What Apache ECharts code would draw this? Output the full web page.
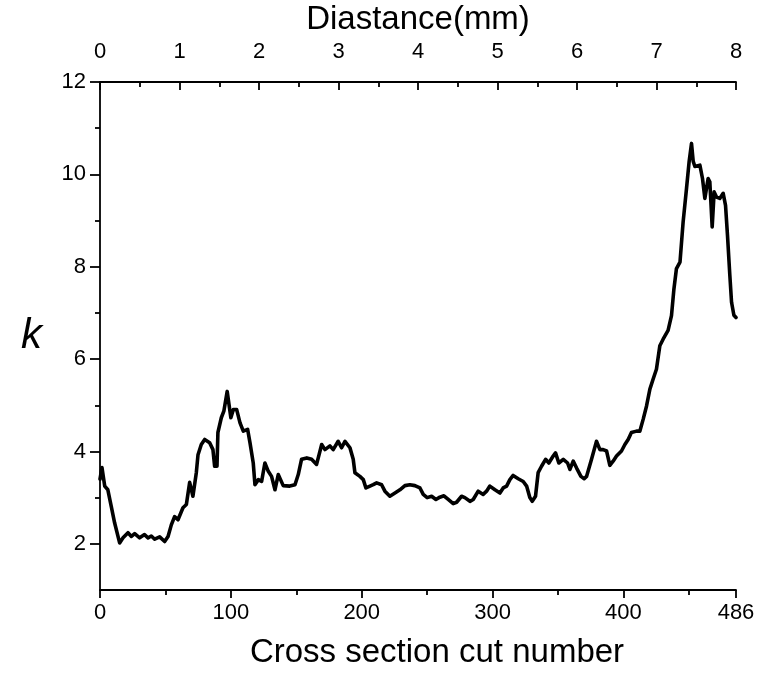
<!DOCTYPE html>
<html>
<head>
<meta charset="utf-8">
<script src="https://cdn.jsdelivr.net/npm/echarts@6/dist/echarts.min.js"></script>
<style>
html,body{margin:0;padding:0;background:#fff;}
#c{width:758px;height:673px;}
</style>
</head>
<body>
<div id="c"></div>
<script>
// Cross section cut number (x) and k (y)
const cutNumbers = [0,1.5,3.6,6,8.6,11.2,15,17.6,21.4,24,26.5,30.3,34,36.7,39.2,41.8,45.6,49.4,52,54.5,57,59.6,63.4,66,68.5,71,73.6,74.9,77.4,80,83.8,86.3,87.6,89.4,90.1,92.7,94.7,97.2,100,101.9,104.4,107,109.5,112.8,114.6,117.1,118.4,121,123.5,126,128.6,131.1,133.7,136.2,140,145,149,151.5,154,158,161.7,165.5,169.4,171.9,175.7,178.2,182,184.6,187.2,191,193.5,194.8,198.6,201.2,203.2,206.3,208.8,211.4,215.2,217.7,221.5,225.4,229.2,233,236.8,240.6,244.5,247,250,253.4,256.7,259.7,262.8,266.1,269.9,272.5,276.3,278.8,282.7,285.2,289,292.8,295.4,297.9,301.8,305.6,308.1,310.7,313.2,315.7,319.6,323.4,326,328.5,330.3,332.8,334.8,337.4,340.5,343,346.3,348.1,350.6,354,357.3,359.1,361.6,364.2,367.5,370,371.8,375.6,379.4,382,384.5,387.1,389.6,392.1,394.7,398.5,401.1,403.6,406.1,410,412.5,415.1,417.6,420.2,422.7,425.2,427.8,430.3,434.1,436.7,438.5,440.5,443.2,445.6,448.2,450.2,452,453.3,454.6,458.4,460.4,462.2,463.5,464.7,466,467.8,469.3,471.1,473.6,476.2,478,479.5,481.3,482.6,484.4,486];
const kValues = [3.4,3.65,3.25,3.17,2.81,2.45,2.02,2.13,2.24,2.16,2.22,2.13,2.2,2.13,2.17,2.1,2.15,2.05,2.16,2.41,2.59,2.52,2.78,2.85,3.33,3.03,3.54,3.93,4.15,4.26,4.19,4.04,3.68,3.68,4.41,4.73,4.88,5.3,4.73,4.91,4.91,4.62,4.44,4.48,4.19,3.75,3.28,3.39,3.35,3.75,3.57,3.46,3.17,3.5,3.26,3.25,3.28,3.5,3.83,3.86,3.83,3.72,4.15,4.04,4.12,4.04,4.22,4.08,4.22,4.08,3.83,3.54,3.46,3.39,3.21,3.25,3.28,3.32,3.28,3.14,3.03,3.1,3.17,3.26,3.28,3.26,3.21,3.07,3.0,3.03,2.96,3.01,3.04,2.96,2.87,2.9,3.03,3.0,2.92,2.96,3.14,3.07,3.14,3.25,3.17,3.1,3.21,3.25,3.39,3.48,3.41,3.35,3.25,3.0,2.92,3.03,3.54,3.68,3.83,3.75,3.9,3.97,3.75,3.83,3.75,3.61,3.79,3.64,3.46,3.41,3.46,3.83,4.22,4.04,4.04,4.01,3.7,3.79,3.9,4.01,4.15,4.26,4.41,4.44,4.44,4.7,4.98,5.35,5.57,5.78,6.29,6.43,6.62,6.94,7.5,7.96,8.1,8.97,9.7,10.28,10.67,10.28,10.17,10.2,9.91,9.48,9.44,9.91,9.84,8.86,9.62,9.51,9.48,9.59,9.33,8.68,7.81,7.23,6.95,6.9];

const bottomMajor = [0,100,200,300,400,486];
const bottomMinor = [50,150,250,350,450];
const leftMajor = [2,4,6,8,10,12];
const leftMinor = [3,5,7,9,11];
const topMin = 0, topMax = 8, topInterval = 1;
const xTitle = 'Cross section cut number';
const topTitle = 'Diastance(mm)';
const yTitle = 'k';

const FONT = "'Liberation Sans', Arial, sans-serif";
const gridPos = {left:100, right:22, top:82, bottom:83, containLabel:false, outerBoundsMode:'none'};
const lineStyle = {color:'#000', width:1.8};

const chart = echarts.init(document.getElementById('c'), null, {renderer:'canvas'});
chart.setOption({
  backgroundColor:'#fff',
  animation:false,
  grid:[Object.assign({}, gridPos), Object.assign({}, gridPos)],
  xAxis:[
    {type:'value', gridIndex:0, position:'bottom', min:0, max:486,
     axisLine:{show:true, onZero:false, lineStyle:lineStyle},
     axisTick:{show:true, customValues:bottomMajor, length:8, lineStyle:lineStyle},
     axisLabel:{show:true, customValues:bottomMajor, fontSize:22, color:'#000', fontFamily:FONT, margin:12},
     splitLine:{show:false},
     name:xTitle, nameLocation:'middle', nameGap:46,
     nameTextStyle:{fontSize:33, color:'#000', fontFamily:FONT, padding:[0,0,0,38]}},
    {type:'value', gridIndex:0, position:'top', min:topMin, max:topMax, interval:topInterval,
     axisLine:{show:true, onZero:false, lineStyle:lineStyle},
     axisTick:{show:true, inside:true, length:8, lineStyle:lineStyle},
     minorTick:{show:true, splitNumber:2, length:5, lineStyle:lineStyle},
     axisLabel:{show:true, fontSize:22, color:'#000', fontFamily:FONT, margin:19},
     splitLine:{show:false},
     name:topTitle, nameLocation:'middle', nameGap:46,
     nameTextStyle:{fontSize:33, color:'#000', fontFamily:FONT}},
    {type:'value', gridIndex:1, position:'bottom', min:0, max:486,
     axisLine:{show:false, onZero:false},
     axisTick:{show:true, customValues:bottomMinor, length:5, lineStyle:lineStyle},
     axisLabel:{show:false}, splitLine:{show:false}}
  ],
  yAxis:[
    {type:'value', gridIndex:0, position:'left', min:1, max:12,
     axisLine:{show:true, onZero:false, lineStyle:lineStyle},
     axisTick:{show:true, customValues:leftMajor, length:10, lineStyle:lineStyle},
     axisLabel:{show:true, customValues:leftMajor, fontSize:22, color:'#000', fontFamily:FONT, margin:14},
     splitLine:{show:false},
     name:yTitle, nameLocation:'middle', nameGap:58, nameRotate:0,
     nameTextStyle:{fontSize:42, fontStyle:'italic', color:'#000', fontFamily:FONT}},
    {type:'value', gridIndex:1, position:'left', min:1, max:12,
     axisLine:{show:false, onZero:false},
     axisTick:{show:true, customValues:leftMinor, length:5, lineStyle:lineStyle},
     axisLabel:{show:false}, splitLine:{show:false}}
  ],
  series:[{
    type:'line', xAxisIndex:0, yAxisIndex:0,
    data: cutNumbers.map((x,i)=>[x, kValues[i]]),
    showSymbol:false, symbol:'none', smooth:false,
    lineStyle:{color:'#000', width:3.6, join:'round', cap:'round'},
    clip:true
  }]
});
</script>
</body>
</html>
